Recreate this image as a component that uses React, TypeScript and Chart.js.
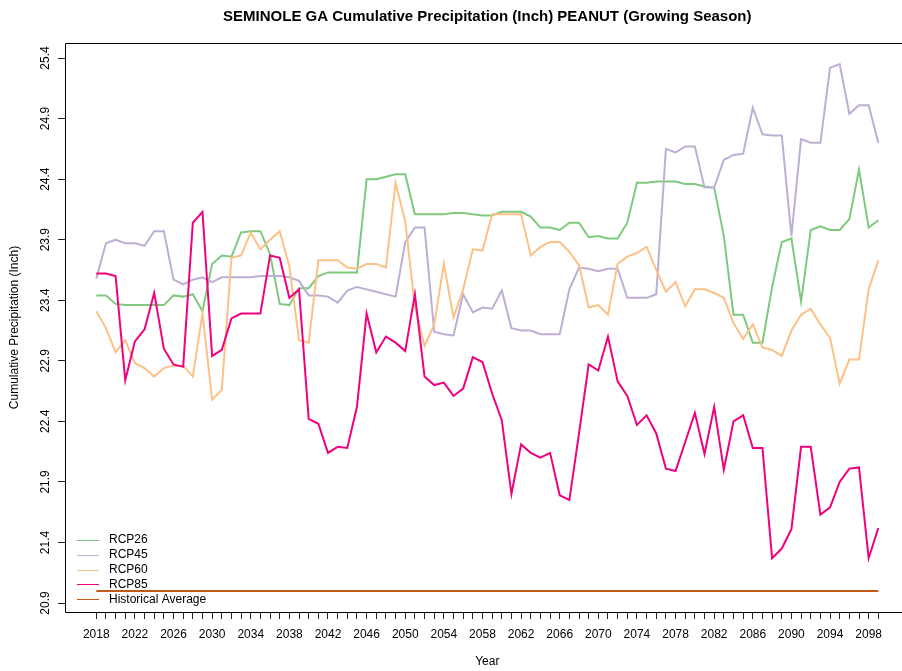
import React, { useEffect, useRef } from 'react';
import { Chart, registerables } from 'chart.js';

Chart.register(...registerables);

const TITLE = 'SEMINOLE GA Cumulative Precipitation (Inch) PEANUT (Growing Season)';
const X_TITLE = 'Year';
const Y_TITLE = 'Cumulative Precipitation (Inch)';

const years = [
  2018, 2019, 2020, 2021, 2022, 2023, 2024, 2025, 2026, 2027,
  2028, 2029, 2030, 2031, 2032, 2033, 2034, 2035, 2036, 2037,
  2038, 2039, 2040, 2041, 2042, 2043, 2044, 2045, 2046, 2047,
  2048, 2049, 2050, 2051, 2052, 2053, 2054, 2055, 2056, 2057,
  2058, 2059, 2060, 2061, 2062, 2063, 2064, 2065, 2066, 2067,
  2068, 2069, 2070, 2071, 2072, 2073, 2074, 2075, 2076, 2077,
  2078, 2079, 2080, 2081, 2082, 2083, 2084, 2085, 2086, 2087,
  2088, 2089, 2090, 2091, 2092, 2093, 2094, 2095, 2096, 2097,
  2098, 2099,
];

const xTickLabels = [2018, 2022, 2026, 2030, 2034, 2038, 2042, 2046, 2050, 2054, 2058, 2062, 2066, 2070, 2074, 2078, 2082, 2086, 2090, 2094, 2098];
const yTicks = [20.9, 21.4, 21.9, 22.4, 22.9, 23.4, 23.9, 24.4, 24.9, 25.4];

const rcp26 = [
  23.44, 23.44, 23.37, 23.36, 23.36, 23.36, 23.36, 23.36, 23.44, 23.43,
  23.45, 23.31, 23.70, 23.77, 23.76, 23.96, 23.97, 23.97, 23.78, 23.37,
  23.36, 23.50, 23.50, 23.60, 23.63, 23.63, 23.63, 23.63, 24.40, 24.40,
  24.42, 24.44, 24.44, 24.11, 24.11, 24.11, 24.11, 24.12, 24.12, 24.11,
  24.10, 24.10, 24.13, 24.13, 24.13, 24.09, 24.00, 24.00, 23.98, 24.04,
  24.04, 23.92, 23.93, 23.91, 23.91, 24.04, 24.37, 24.37, 24.38, 24.38,
  24.38, 24.36, 24.36, 24.34, 24.33, 23.93, 23.28, 23.28, 23.05, 23.05,
  23.51, 23.88, 23.91, 23.39, 23.98, 24.01, 23.98, 23.98, 24.07, 24.48,
  24.00, 24.06,
];

const rcp45 = [
  23.58, 23.87, 23.90, 23.87, 23.87, 23.85, 23.97, 23.97, 23.57, 23.53,
  23.57, 23.59, 23.55, 23.59, 23.59, 23.59, 23.59, 23.60, 23.60, 23.60,
  23.59, 23.56, 23.44, 23.44, 23.43, 23.38, 23.48, 23.51, 23.49, 23.47,
  23.45, 23.43, 23.88, 24.00, 24.00, 23.14, 23.12, 23.11, 23.45, 23.30,
  23.34, 23.33, 23.48, 23.17, 23.15, 23.15, 23.12, 23.12, 23.12, 23.49,
  23.67, 23.66, 23.64, 23.66, 23.66, 23.42, 23.42, 23.42, 23.45, 24.65,
  24.62, 24.67, 24.67, 24.33, 24.33, 24.56, 24.60, 24.61, 24.99, 24.77,
  24.76, 24.76, 23.93, 24.73, 24.70, 24.70, 25.32, 25.35, 24.94, 25.01,
  25.01, 24.70,
];

const rcp60 = [
  23.31, 23.17, 22.97, 23.07, 22.88, 22.84, 22.77, 22.84, 22.86, 22.86,
  22.77, 23.29, 22.58, 22.66, 23.75, 23.77, 23.96, 23.82, 23.90, 23.97,
  23.68, 23.07, 23.05, 23.73, 23.73, 23.73, 23.67, 23.66, 23.70, 23.70,
  23.67, 24.37, 24.05, 23.35, 23.02, 23.20, 23.70, 23.26, 23.49, 23.82,
  23.81, 24.11, 24.11, 24.11, 24.11, 23.77, 23.84, 23.88, 23.88, 23.80,
  23.69, 23.34, 23.36, 23.28, 23.70, 23.76, 23.79, 23.84, 23.65, 23.47,
  23.55, 23.35, 23.49, 23.49, 23.46, 23.42, 23.21, 23.08, 23.20, 23.01,
  22.99, 22.94, 23.15, 23.28, 23.33, 23.20, 23.09, 22.71, 22.91, 22.91,
  23.49, 23.73,
];

const rcp85 = [
  23.62, 23.62, 23.60, 22.74, 23.06, 23.16, 23.46, 23.00, 22.87, 22.85,
  24.04, 24.13, 22.94, 22.99, 23.25, 23.29, 23.29, 23.29, 23.77, 23.75,
  23.42, 23.49, 22.42, 22.38, 22.14, 22.19, 22.18, 22.52, 23.29, 22.97,
  23.10, 23.05, 22.98, 23.45, 22.77, 22.70, 22.72, 22.61, 22.67, 22.93,
  22.89, 22.63, 22.41, 21.80, 22.21, 22.14, 22.10, 22.14, 21.79, 21.75,
  22.30, 22.87, 22.82, 23.10, 22.73, 22.61, 22.37, 22.45, 22.30, 22.01,
  21.99, 22.23, 22.47, 22.13, 22.52, 22.00, 22.40, 22.45, 22.18, 22.18,
  21.27, 21.35, 21.51, 22.19, 22.19, 21.63, 21.69, 21.90, 22.01, 22.02,
  21.27, 21.52,
];

const historicalAverage = 21.0;

const seriesNames = ['RCP26', 'RCP45', 'RCP60', 'RCP85', 'Historical Average'];
const seriesColors = ['#7FC97F', '#BEAED4', '#FDC086', '#F0027F', '#BF5B17'];

const X_MIN = 2014.76;
const X_MAX = 2102.24;
const Y_MIN = 20.826;
const Y_MAX = 25.524;

const FONT_FAMILY = '"Liberation Sans", Arial, Helvetica, sans-serif';

const toPoints = (vals: number[]) => vals.map((v, i) => ({ x: years[i], y: v }));

const decorPlugin = {
  id: 'decor',
  afterDraw(chart: any) {
    const { ctx, chartArea: a } = chart;
    ctx.save();
    // plot box (right side lies beyond the visible page)
    const L = Math.round(a.left) + 0.5;
    const T = Math.round(a.top) + 0.5;
    const B = Math.round(a.bottom) + 0.5;
    const R = a.right + 1;
    ctx.strokeStyle = '#000';
    ctx.lineWidth = 1;
    ctx.beginPath();
    ctx.moveTo(R, T);
    ctx.lineTo(L, T);
    ctx.lineTo(L, B);
    ctx.lineTo(R, B);
    ctx.stroke();

    const cx = (a.left + a.right) / 2;
    ctx.fillStyle = '#000';
    ctx.textAlign = 'center';
    ctx.textBaseline = 'middle';
    ctx.font = `bold 15px ${FONT_FAMILY}`;
    ctx.fillText(TITLE, cx, 17);

    ctx.font = `12px ${FONT_FAMILY}`;
    ctx.fillText(X_TITLE, cx, 662);

    ctx.save();
    ctx.translate(15, (a.top + a.bottom) / 2);
    ctx.rotate(-Math.PI / 2);
    ctx.fillText(Y_TITLE, 0, 0);
    ctx.restore();

    // legend
    const rowY = [540, 554.8, 569.6, 584.4, 599.2];
    ctx.textAlign = 'left';
    seriesNames.forEach((name, i) => {
      ctx.strokeStyle = seriesColors[i];
      ctx.lineWidth = 1;
      ctx.beginPath();
      ctx.moveTo(77, Math.round(rowY[i]) + 0.5);
      ctx.lineTo(99, Math.round(rowY[i]) + 0.5);
      ctx.stroke();
      ctx.fillStyle = '#000';
      ctx.fillText(name, 109, rowY[i]);
    });
    ctx.restore();
  },
};

export default function App() {
  const ref = useRef<HTMLCanvasElement>(null);

  useEffect(() => {
    if (!ref.current) return;
    const seriesData = [rcp26, rcp45, rcp60, rcp85, years.map(() => historicalAverage)];
    const orders = [5, 4, 3, 2, 1];
    const chart = new Chart(ref.current, {
      type: 'line',
      data: {
        datasets: seriesNames.map((name, i) => ({
          label: name,
          data: toPoints(seriesData[i]),
          borderColor: seriesColors[i],
          backgroundColor: seriesColors[i],
          borderWidth: 2,
          pointRadius: 0,
          pointHoverRadius: 0,
          tension: 0,
          fill: false,
          order: orders[i],
        })),
      },
      options: {
        responsive: false,
        maintainAspectRatio: false,
        animation: false,
        devicePixelRatio: 1,
        layout: { padding: { top: 43, right: 10.4, left: 0, bottom: 0 } },
        plugins: {
          legend: { display: false },
          tooltip: { enabled: false },
          title: { display: false },
        },
        scales: {
          x: {
            type: 'linear',
            position: 'bottom',
            min: X_MIN,
            max: X_MAX,
            bounds: 'data',
            afterBuildTicks: (s: any) => {
              s.ticks = years.map((v) => ({ value: v }));
            },
            afterFit: (s: any) => {
              s.height = 59;
            },
            ticks: {
              autoSkip: false,
              maxRotation: 0,
              minRotation: 0,
              padding: 8,
              color: '#000',
              font: { family: FONT_FAMILY, size: 12 },
              callback: (v: any) => (xTickLabels.includes(Number(v)) ? String(v) : ''),
            },
            grid: { drawOnChartArea: false, drawTicks: true, tickLength: 7, tickColor: '#222' },
            border: { display: false },
          },
          y: {
            type: 'linear',
            position: 'left',
            min: Y_MIN,
            max: Y_MAX,
            bounds: 'data',
            afterBuildTicks: (s: any) => {
              s.ticks = yTicks.map((v) => ({ value: v }));
            },
            afterFit: (s: any) => {
              s.width = 65;
            },
            ticks: {
              minRotation: 90,
              maxRotation: 90,
              crossAlign: 'center',
              padding: 1,
              color: '#000',
              font: { family: FONT_FAMILY, size: 12 },
              callback: (v: any) => Number(v).toFixed(1),
            },
            grid: { drawOnChartArea: false, drawTicks: true, tickLength: 7, tickColor: '#222' },
            border: { display: false },
          },
        },
      },
      plugins: [decorPlugin],
    } as any);
    return () => chart.destroy();
  }, []);

  return (
    <div style={{ position: 'fixed', left: 0, top: 0, width: 902, height: 671, overflow: 'hidden', background: '#fff' }}>
      <canvas ref={ref} width={920} height={671} style={{ display: 'block', width: 920, height: 671 }} />
    </div>
  );
}
